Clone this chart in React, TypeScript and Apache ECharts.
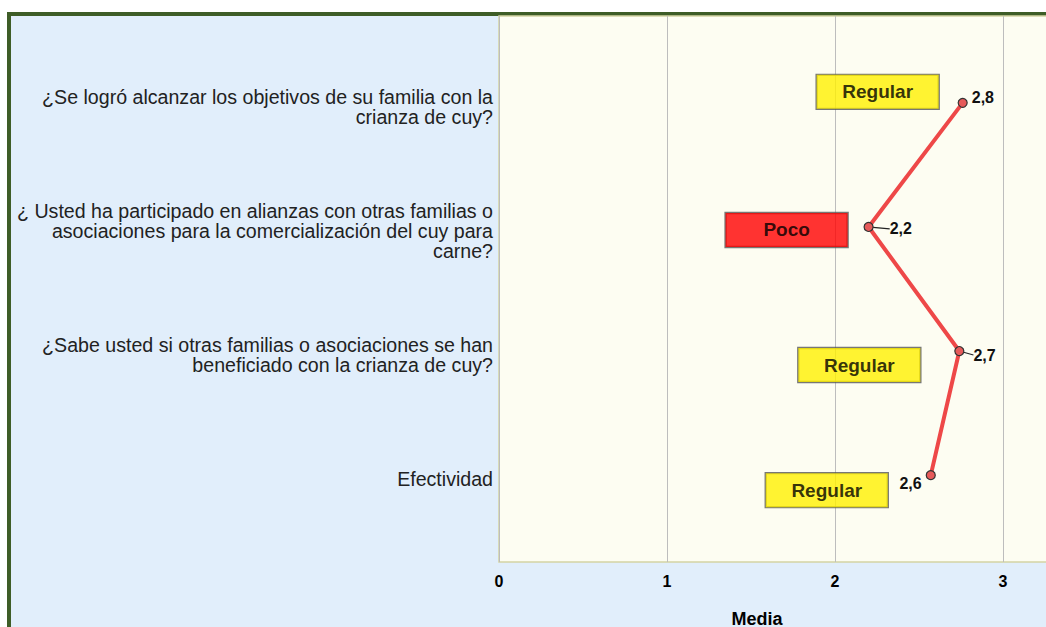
import React, { useEffect, useRef } from "react";
import * as echarts from "echarts";

const categories = [
  "¿Se logró alcanzar los objetivos de su familia con la\ncrianza de cuy?",
  "¿ Usted ha participado en alianzas con otras familias o\nasociaciones para la comercialización del cuy para\ncarne?",
  "¿Sabe usted si otras familias o asociaciones se han\nbeneficiado con la crianza de cuy?",
  "Efectividad",
];
const means = [2.76, 2.2, 2.74, 2.57];
const levels = ["Regular", "Poco", "Regular", "Regular"];
const xTicks = [0, 1, 2, 3, 4];

// layout / style (not data)
const LABEL_NUDGE = 0.032; // category labels sit slightly below their point
const boxOffsets: [number, number][] = [
  [-85, -11],
  [-82, 3],
  [-100, 14],
  [-104, 15],
];
const labelShift = [
  { dx: 0, dy: -5 },
  { dx: 12, dy: 2 },
  { dx: 5, dy: 4 },
  { dx: 0, dy: 8 },
];
const levelColors: Record<string, string> = { Regular: "#fff000", Poco: "#ff0000" };
const FONT = "'Liberation Sans', Arial, sans-serif";

export default function App() {
  const ref = useRef<HTMLDivElement>(null);
  useEffect(() => {
    if (!ref.current) return;
    const chart = echarts.init(ref.current, undefined, { renderer: "svg" });
    const fmt = (v: number) => v.toFixed(1).replace(".", ",");
    const lineLabelPos = ["right", "right", "right", "left"];
    chart.setOption({
      animation: false,
      backgroundColor: "#ffffff",
      graphic: [
        {
          type: "rect",
          z: -10,
          silent: true,
          shape: { x: 7, y: 12, width: 1100, height: 700 },
          style: { fill: "#3e5d27" },
        },
        {
          type: "rect",
          z: -9,
          silent: true,
          shape: { x: 11, y: 16, width: 1100, height: 700 },
          style: { fill: "#e1eefb" },
        },
      ],
      grid: {
        left: 499,
        top: 16,
        bottom: 65,
        width: 672,
        outerBoundsMode: "none",
        show: true,
        backgroundColor: "#fdfdf2",
        borderColor: "#d4d4a4",
        borderWidth: 1.5,
        containLabel: false,
      },
      xAxis: {
        type: "value",
        min: xTicks[0],
        max: xTicks[xTicks.length - 1],
        interval: 1,
        axisLine: { show: false },
        axisTick: { show: false },
        splitLine: { show: true, lineStyle: { color: "#bdbdbd", width: 1 } },
        axisLabel: {
          showMaxLabel: false,
          color: "#000",
          fontFamily: FONT,
          fontWeight: "bold",
          fontSize: 16,
          margin: 11,
        },
        name: "Media",
        nameLocation: "middle",
        nameGap: 48,
        nameTextStyle: {
          color: "#000",
          fontFamily: FONT,
          fontWeight: "bold",
          fontSize: 18,
          padding: [0, 156, 0, 0],
        },
      },
      yAxis: {
        type: "value",
        inverse: true,
        min: -0.7,
        max: 3.7,
        axisLine: { show: false },
        axisTick: { show: false },
        splitLine: { show: false },
        axisLabel: {
          customValues: categories.map((_, i) => i + LABEL_NUDGE),
          formatter: (v: number) => categories[Math.round(v)] ?? "",
          color: "#222",
          fontFamily: FONT,
          fontSize: 19.6,
          lineHeight: 19.8,
          align: "right",
          margin: 6,
        },
      },
      series: [
        {
          type: "line",
          z: 3,
          data: means.map((m, i) => ({
            value: [m, i],
            label: { position: lineLabelPos[i] },
            labelLine: { show: labelShift[i].dx > 0 },
          })),
          lineStyle: { color: "#ee4848", width: 4 },
          symbol: "circle",
          symbolSize: 9,
          itemStyle: { color: "#e65a5a", borderColor: "#333", borderWidth: 1.2 },
          labelLayout: (p: any) => labelShift[p.dataIndex],
          labelLine: { show: false, lineStyle: { color: "#222", width: 1.2 } },
          label: {
            show: true,
            distance: 4,
            formatter: (p: any) => fmt(p.value[0]),
            color: "#111",
            fontFamily: FONT,
            fontWeight: "bold",
            fontSize: 16,
          },
        },
        {
          type: "scatter",
          z: 4,
          symbolSize: 0,
          data: means.map((m, i) => ({
            value: [m, i],
            label: {
              offset: boxOffsets[i],
              backgroundColor: levelColors[levels[i]],
            },
          })),
          label: {
            show: true,
            position: "inside",
            formatter: (p: any) => levels[p.dataIndex],
            color: "#000",
            fontFamily: FONT,
            fontWeight: "bold",
            fontSize: 19,
            width: 122,
            height: 34,
            lineHeight: 38,
            align: "center",
            verticalAlign: "middle",
            borderColor: "#555",
            borderWidth: 1.2,
          },
        },
      ],
    });
    return () => chart.dispose();
  }, []);
  return (
    <div
      ref={ref}
      style={{ position: "absolute", left: 0, top: 0, width: 1046, height: 627 }}
    />
  );
}
